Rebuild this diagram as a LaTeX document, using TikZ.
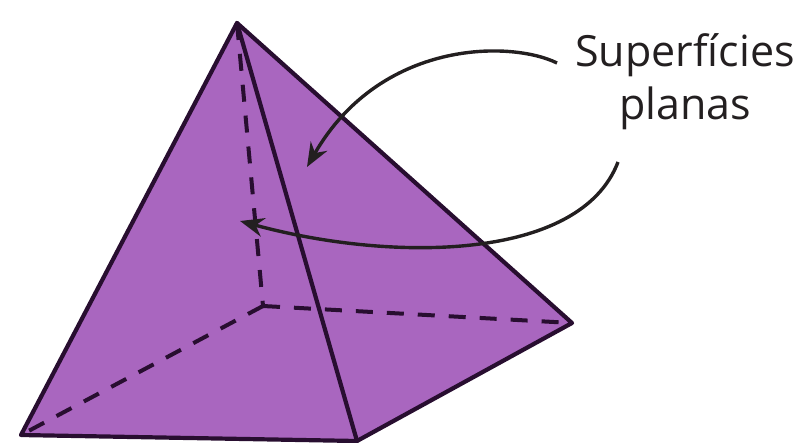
\documentclass[tikz,border=0pt]{standalone}
\usepackage{fontspec}
\setmainfont{Open Sans}
\usetikzlibrary{arrows.meta}
\definecolor{face}{RGB}{169,102,191}
\definecolor{edge}{RGB}{40,14,48}
\definecolor{ink}{RGB}{35,31,32}
\begin{document}
\begin{tikzpicture}[x=1pt,y=-1pt,
  solidedge/.style={draw=edge,line width=4.2pt,line join=round,line cap=round},
  hiddenedge/.style={draw=edge,line width=4pt,dash pattern=on 17pt off 14pt},
  pointer/.style={draw=ink,line width=3.4pt,-{Stealth[length=24pt,width=19pt]}},
  label/.style={text=ink,font=\fontsize{43}{53}\selectfont,inner sep=0pt,anchor=base}]
  \useasboundingbox (0,0) rectangle (802,443);
  % vertices of the square pyramid
  \coordinate (A) at (237,23);   % apex
  \coordinate (FL) at (21,435);  % front left
  \coordinate (FR) at (357,441); % front right
  \coordinate (R) at (572,323);  % right
  \coordinate (B) at (263,306);  % hidden back corner
  % visible faces
  \fill[face] (FL) -- (A) -- (R) -- (FR) -- cycle;
  % hidden edges
  \draw[hiddenedge] (A) -- (B);
  \draw[hiddenedge] (B) -- (FL);
  \draw[hiddenedge] (B) -- (R);
  % visible edges
  \draw[solidedge] (FL) -- (A) -- (R) -- (FR) -- cycle;
  \draw[solidedge] (A) -- (FR);
  % label and pointers
  \node[label] (txt1) at (685,67) {Superfícies};
  \node[label] (txt2) at (685,120) {planas};
  \coordinate (p1) at (557,63);
  \coordinate (p2) at (618,162);
  \coordinate (t1) at (307,167);
  \coordinate (t2) at (240,221);
  \draw[pointer] (p1) .. controls (510,40) and (380,40) .. (t1);
  \draw[pointer] (p2) .. controls (580,262) and (390,262) .. (t2);
\end{tikzpicture}
\end{document}
